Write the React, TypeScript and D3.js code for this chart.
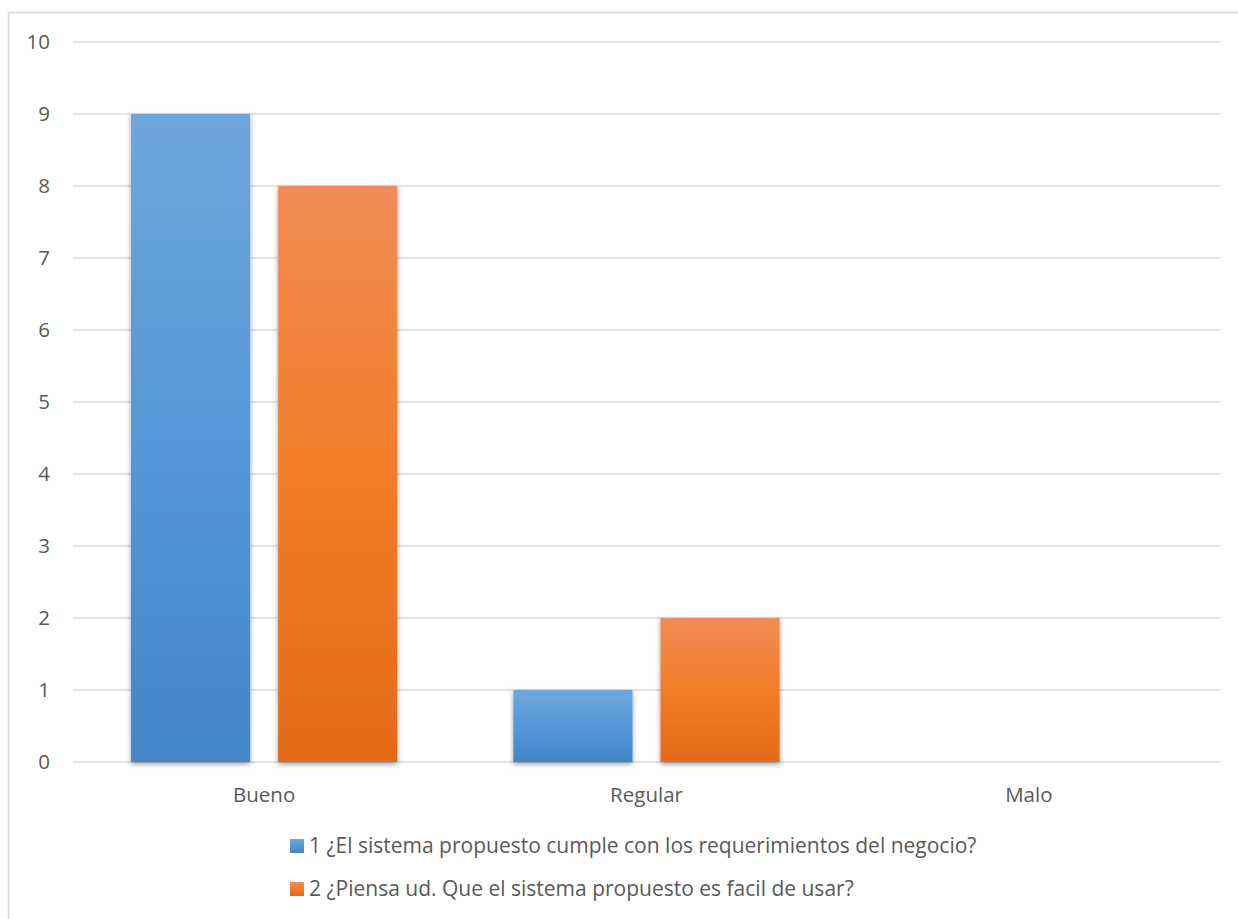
import React from "react";
import * as d3 from "d3";

const categories = ["Bueno", "Regular", "Malo"];
const seriesNames = [
  "1 ¿El sistema propuesto cumple con los requerimientos del negocio?",
  "2 ¿Piensa ud. Que el sistema propuesto es facil de usar?",
];
const series1 = [9, 1, 0];
const series2 = [8, 2, 0];
const yTicks = [0, 1, 2, 3, 4, 5, 6, 7, 8, 9, 10];

const W = 1238;
const H = 919;
const FONT = "'Open Sans', 'Noto Sans', sans-serif";
const TEXT = "#595959";
const FS = 20.5;

export default function App() {
  const x0 = d3.scaleBand<string>().domain(categories).range([73, 1220]).paddingInner(0).paddingOuter(0);
  const x1 = d3
    .scaleBand<number>()
    .domain([0, 1])
    .range([0, x0.bandwidth()])
    .paddingInner(28 / 147)
    .paddingOuter(58 / 147);
  const y = d3.scaleLinear().domain([0, 10]).range([762, 42]);
  const allSeries = [series1, series2];
  const grads = ["gBlue", "gOrange"];

  return (
    <svg width={W} height={H} style={{ position: "absolute", left: 0, top: 0, background: "#fff" }}>
      <defs>
        <linearGradient id="gBlue" x1="0" y1="0" x2="0" y2="1">
          <stop offset="0" stopColor="#6fa6dc" />
          <stop offset="0.5" stopColor="#5498d9" />
          <stop offset="1" stopColor="#4286c7" />
        </linearGradient>
        <linearGradient id="gOrange" x1="0" y1="0" x2="0" y2="1">
          <stop offset="0" stopColor="#f08c55" />
          <stop offset="0.5" stopColor="#f27c28" />
          <stop offset="1" stopColor="#e36a18" />
        </linearGradient>
        <filter id="shadow" x="-20%" y="-20%" width="140%" height="140%">
          <feDropShadow dx="0" dy="2" stdDeviation="2.5" floodColor="#000" floodOpacity="0.4" />
        </filter>
      </defs>
      <rect x={8.5} y={12.5} width={1240} height={920} fill="#fff" stroke="#d9d9d9" strokeWidth={1.5} />
      {yTicks.map((t) => (
        <g key={t}>
          <line x1={73} x2={1220} y1={y(t)} y2={y(t)} stroke="#d9d9d9" strokeWidth={1.5} />
          <text x={50} y={y(t)} dy="0.35em" textAnchor="end" fontFamily={FONT} fontSize={FS} fill={TEXT}>
            {t}
          </text>
        </g>
      ))}
      {categories.map((c, ci) =>
        allSeries.map((s, si) =>
          s[ci] > 0 ? (
            <rect
              key={c + si}
              x={(x0(c) as number) + (x1(si) as number)}
              y={y(s[ci])}
              width={x1.bandwidth()}
              height={y(0) - y(s[ci])}
              fill={`url(#${grads[si]})`}
              filter="url(#shadow)"
            />
          ) : null
        )
      )}
      {categories.map((c) => (
        <text
          key={c}
          x={(x0(c) as number) + x0.bandwidth() / 2}
          y={795}
          dy="0.35em"
          textAnchor="middle"
          fontFamily={FONT}
          fontSize={FS}
          fill={TEXT}
        >
          {c}
        </text>
      ))}
      {seriesNames.map((n, i) => (
        <g key={n}>
          <rect x={290} y={839 + i * 43} width={14} height={14} fill={`url(#${grads[i]})`} />
          <text x={309} y={846 + i * 43} dy="0.35em" fontFamily={FONT} fontSize={21} fill={TEXT}>
            {n}
          </text>
        </g>
      ))}
    </svg>
  );
}
